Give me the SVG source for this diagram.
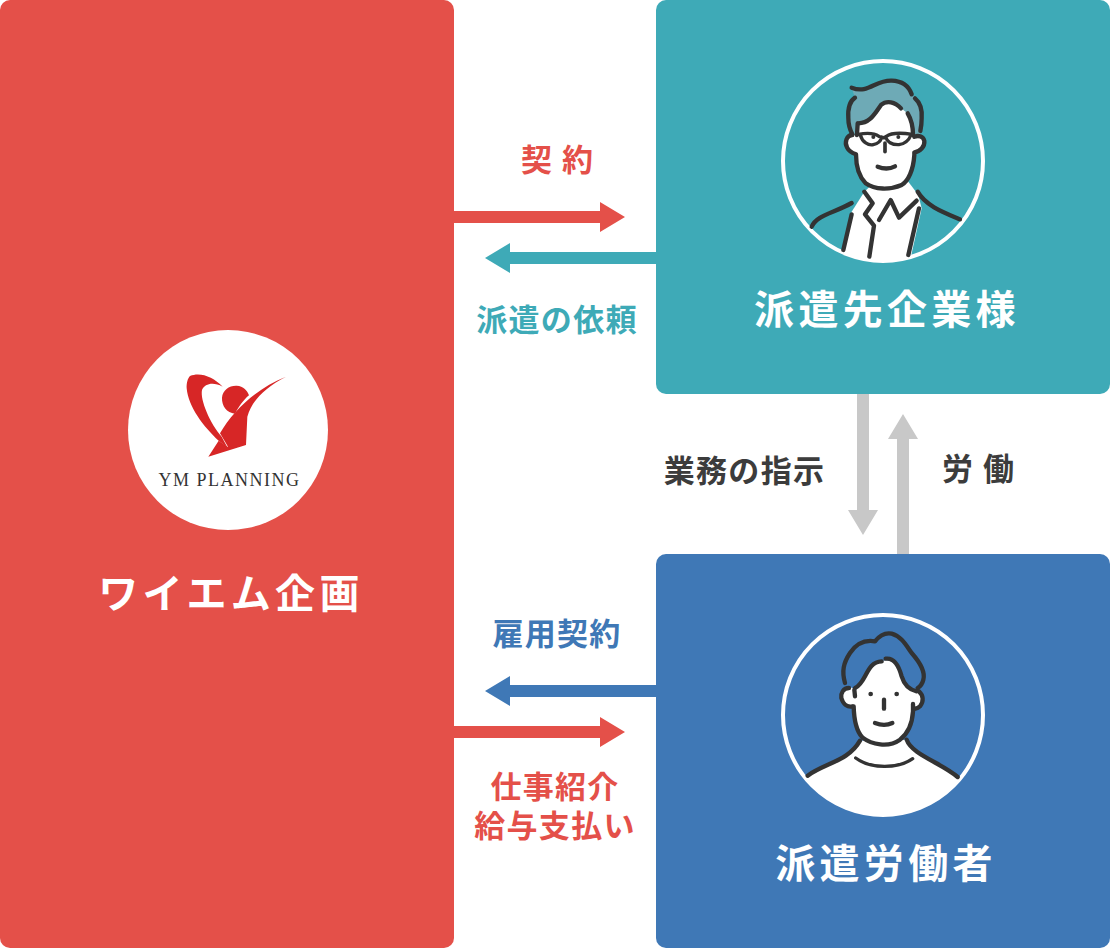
<svg xmlns="http://www.w3.org/2000/svg" width="1110" height="948" viewBox="0 0 1110 948">
<style>
text{font-family:"Noto Sans CJK JP","Noto Sans",sans-serif;font-weight:700;text-anchor:middle}
.big{font-size:40px;letter-spacing:4.300px;fill:#fff}
.lab{font-size:31px;letter-spacing:1.300px}
.ln{fill:none;stroke:#333;stroke-width:13;stroke-linecap:round;stroke-linejoin:round}
.w{fill:#fff}
</style>
<defs>
<clipPath id="c1"><circle cx="324" cy="317" r="300"/></clipPath>
<clipPath id="c2"><circle cx="324" cy="320" r="300"/></clipPath>
</defs>
<g id="connectors">
<path fill="#e45049" d="M454 211H600V202L625 217L600 232V223H454Z"/>
<path fill="#3eaab7" d="M656 252H510V243L485 258L510 273V264H656Z"/>
<path fill="#c8c8c8" d="M857 394H869V510H878L863 535L848 510H857Z"/>
<path fill="#c8c8c8" d="M897 554V439H888L903 414L918 439H909V554Z"/>
<path fill="#3f78b6" d="M656 685H510V676L485 691L510 706V697H656Z"/>
<path fill="#e45049" d="M454 726H600V717L625 732L600 747V738H454Z"/>
</g>
<g id="node-ym">
<rect width="454" height="948" rx="10" fill="#e45049"/>
<circle cx="228" cy="430" r="100" fill="#fff"/>
<g transform="translate(120 320) scale(.33333)" fill="#d72626">
<path d="M210 168C240 155 280 170 308 200C280 185 255 190 246 210C240 240 270 310 305 350L322 382L296 362C250 320 205 260 200 205C199 190 203 175 210 168Z"/>
<path d="M345 281C320 278 305 258 306 233C308 210 328 196 350 197C370 198 383 212 387 226C370 240 355 262 345 281Z"/>
<path d="M498 170C430 205 395 245 382 290L378 375L265 410L296 362L325 382L300 340C340 270 410 205 498 170Z"/>
</g>
<text x="229.500" y="485.500" font-size="18" style="font-family:'Liberation Serif',serif;font-weight:400;letter-spacing:1.500px" fill="#333">YM PLANNING</text>
<text x="231" y="608" class="big">ワイエム企画</text>
</g>
<g id="node-client">
<rect x="656" width="454" height="394" rx="10" fill="#3eaab7"/>
<circle cx="883" cy="161" r="100" fill="#3eaab7" stroke="#fff" stroke-width="4"/>
<g transform="translate(775 55) scale(.33333)">
<g clip-path="url(#c1)">
<path class="w" d="M200 600L230 470L268 410L300 380L400 380L430 420L440 460L400 640Z"/>
</g>
<path d="M230 100C280 115 300 75 350 78C390 80 405 100 412 120C430 130 440 150 440 180L435 245L245 245C225 230 215 190 220 160C222 145 228 135 240 128Z" fill="#6eaab6"/>
<path class="w" d="M250 205C280 205 300 170 320 148C340 135 365 145 385 165C410 180 415 220 415 240C430 235 450 245 448 265C445 285 430 295 420 295C420 340 410 370 380 390C340 410 300 405 270 380C250 355 243 330 243 298C225 290 212 280 212 260C212 240 230 235 240 240Z"/>
<path class="ln" d="M230 98C280 118 300 75 350 77C385 78 402 95 410 118"/>
<path class="ln" d="M240 128C222 140 218 160 220 190C220 210 225 225 232 238"/>
<path class="ln" d="M420 130C438 145 442 165 440 190C440 205 438 218 436 228"/>
<path class="ln" d="M250 205C285 205 300 175 318 150C335 135 360 140 378 160M398 175C410 195 414 220 414 240"/>
<path class="ln" d="M248 205L246 240M232 240C215 240 208 262 216 277C222 290 235 295 243 298C243 340 252 365 272 385C300 405 345 405 380 390C400 378 415 345 418 300L418 292C435 290 450 275 448 258C445 245 432 240 418 245"/>
<path class="ln" style="stroke-width:10" d="M250 238C270 234 295 232 312 244C320 250 326 250 334 244C350 232 385 234 412 238M256 240C262 262 280 272 295 269C310 266 318 256 320 246M332 246C336 260 350 270 372 269C392 266 402 255 408 240"/>
<path d="M330 264V290" class="ln" style="stroke-width:11"/>
<circle cx="295" cy="246" r="6" fill="#333"/><circle cx="370" cy="246" r="6" fill="#333"/>
<path class="ln" d="M308 335C325 342 345 342 360 334"/>
<path class="ln" d="M110 515C125 480 175 475 230 444"/>
<path class="ln" d="M428 410C450 450 500 470 555 493"/>
<path class="ln" d="M268 410L293 445L270 478L297 512L283 605"/>
<path class="ln" d="M230 478L205 585"/>
<path class="ln" d="M312 495L347 435L372 488L425 437"/>
<path class="ln" d="M432 460L400 600"/>
</g>
<text x="887" y="324" class="big">派遣先企業様</text>
</g>
<g id="node-worker">
<rect x="656" y="554" width="454" height="394" rx="10" fill="#3f78b6"/>
<circle cx="883" cy="715" r="100" fill="#3f78b6" stroke="#fff" stroke-width="4"/>
<g transform="translate(775 608) scale(.33333)">
<path class="w" clip-path="url(#c2)" d="M95 503C150 470 220 450 255 398L395 395C410 440 500 470 550 508L600 660H50Z"/>
<path class="w" d="M240 240C270 225 275 160 320 160C345 148 370 170 380 205C388 235 405 245 425 248C440 250 450 265 445 285C440 295 425 305 415 290C415 340 405 375 365 402C330 420 290 412 262 390C240 365 235 330 235 295C220 305 200 290 198 265C198 245 215 235 232 240Z"/>
<path class="ln" d="M210 225C200 190 205 165 225 135C245 105 270 95 300 100C312 85 330 73 350 77C380 85 395 115 410 135C432 160 452 190 445 215C442 228 436 235 428 240"/>
<path class="ln" d="M240 240C275 225 272 162 320 160M332 152C360 148 372 175 380 205C388 232 402 245 425 250"/>
<path class="ln" d="M222 240C205 240 197 255 199 270C205 290 218 298 232 295M238 245L240 265"/>
<path class="ln" d="M432 250C445 262 447 280 435 295C428 302 420 302 414 304M414 288V310C412 345 400 375 375 395C340 420 290 410 262 388C245 370 237 335 236 295"/>
<circle cx="287" cy="258" r="7" fill="#333"/><circle cx="365" cy="258" r="7" fill="#333"/>
<path class="ln" d="M327 275V302"/>
<path class="ln" d="M300 345C320 353 335 353 352 345"/>
<path class="ln" d="M98 503C150 465 220 460 255 398"/>
<path class="ln" d="M395 395C410 440 500 465 548 507"/>
<path class="ln" d="M242 450C290 485 370 482 413 452" style="stroke-width:10"/>
</g>
<text x="886" y="878" class="big">派遣労働者</text>
</g>
<g id="labels">
<text x="562" y="171" class="lab" fill="#e45049" style="letter-spacing:10px">契約</text>
<text x="557" y="331" class="lab" fill="#3eaab7">派遣の依頼</text>
<text x="744.500" y="482" class="lab" fill="#3c3c3c">業務の指示</text>
<text x="983" y="480" class="lab" fill="#3c3c3c" style="letter-spacing:10px">労働</text>
<text x="557" y="645" class="lab" fill="#3f78b6">雇用契約</text>
<text x="555" y="798" class="lab" fill="#e45049">仕事紹介</text>
<text x="555" y="837" class="lab" fill="#e45049">給与支払い</text>
</g>
</svg>
